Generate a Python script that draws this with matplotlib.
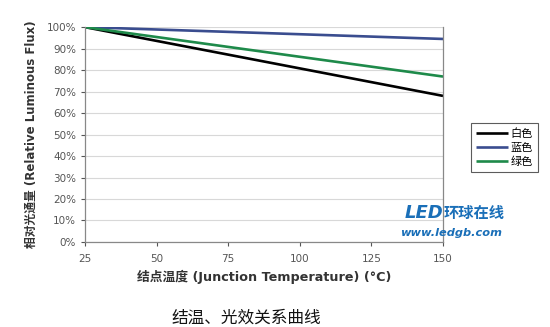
import matplotlib
matplotlib.use("Agg")
import matplotlib.pyplot as plt

plt.rcParams['font.family'] = ['DejaVu Sans', 'Noto Sans CJK SC']

temps = [25, 50, 75, 100, 125, 150]
white = [100, 93.6, 87.2, 80.8, 74.4, 68.0]
blue = [100, 98.9, 97.8, 96.7, 95.6, 94.5]
green = [100, 95.4, 90.8, 86.2, 81.6, 77.0]
series_names = ['白色', '蓝色', '绿色']
colors = ['#000000', '#3a4d8f', '#1e8a4a']
yticks = list(range(0, 101, 10))

fig = plt.figure(figsize=(5.5, 3.27), dpi=100)
ax = fig.add_axes([0.1545, 0.26, 0.651, 0.657])

for vals, name, c in zip([white, blue, green], series_names, colors):
    ax.plot(temps, vals, color=c, lw=1.9, label=name, solid_capstyle='butt')

ax.set_xlim(25, 150)
ax.set_ylim(0, 100)
ax.set_xticks(temps)
ax.set_yticks(yticks)
ax.set_yticklabels([f'{v}%' for v in yticks])
ax.yaxis.grid(True, color='#d8d8d8', lw=0.8)
ax.set_axisbelow(True)
ax.tick_params(labelsize=7.5, colors='#555555', length=3, width=0.8)
ax.tick_params(axis='x', pad=6)
for s in ['left', 'bottom', 'right']:
    ax.spines[s].set_color('#888888')
    ax.spines[s].set_linewidth(0.9)
ax.spines['top'].set_visible(False)

ax.set_xlabel('结点温度 (Junction Temperature) (°C)', fontsize=9.2,
              fontweight='bold', color='#333333', labelpad=4)
ax.set_ylabel('相对光通量 (Relative Luminous Flux)', fontsize=8.5,
              fontweight='bold', color='#333333', labelpad=6)

leg = fig.legend(loc='upper left', bbox_to_anchor=(0.846, 0.64),
                 frameon=True, fancybox=False, handlelength=2.9,
                 handletextpad=0.2, borderpad=0.45, labelspacing=0.35,
                 prop={'family': ['Noto Sans CJK SC'], 'size': 8})
leg.get_frame().set_edgecolor('#333333')
leg.get_frame().set_linewidth(0.8)

# logo text inside the plot
fig.text(0.736, 0.333, 'LED', fontsize=13, fontweight='bold', style='italic',
         color='#1a6fb8')
fig.text(0.806, 0.333, '环球在线', fontsize=11, fontweight='bold', color='#1a6fb8',
         family=['Noto Sans CJK SC'])
fig.text(0.727, 0.278, 'www.ledgb.com', fontsize=8.2, fontweight='bold', style='italic',
         color='#1a6fb8')

fig.text(0.447, 0.012, '结温、光效关系曲线', fontsize=12, ha='center',
         family=['Noto Sans CJK SC'], color='#111111')

fig.savefig('out.png', dpi=100)
